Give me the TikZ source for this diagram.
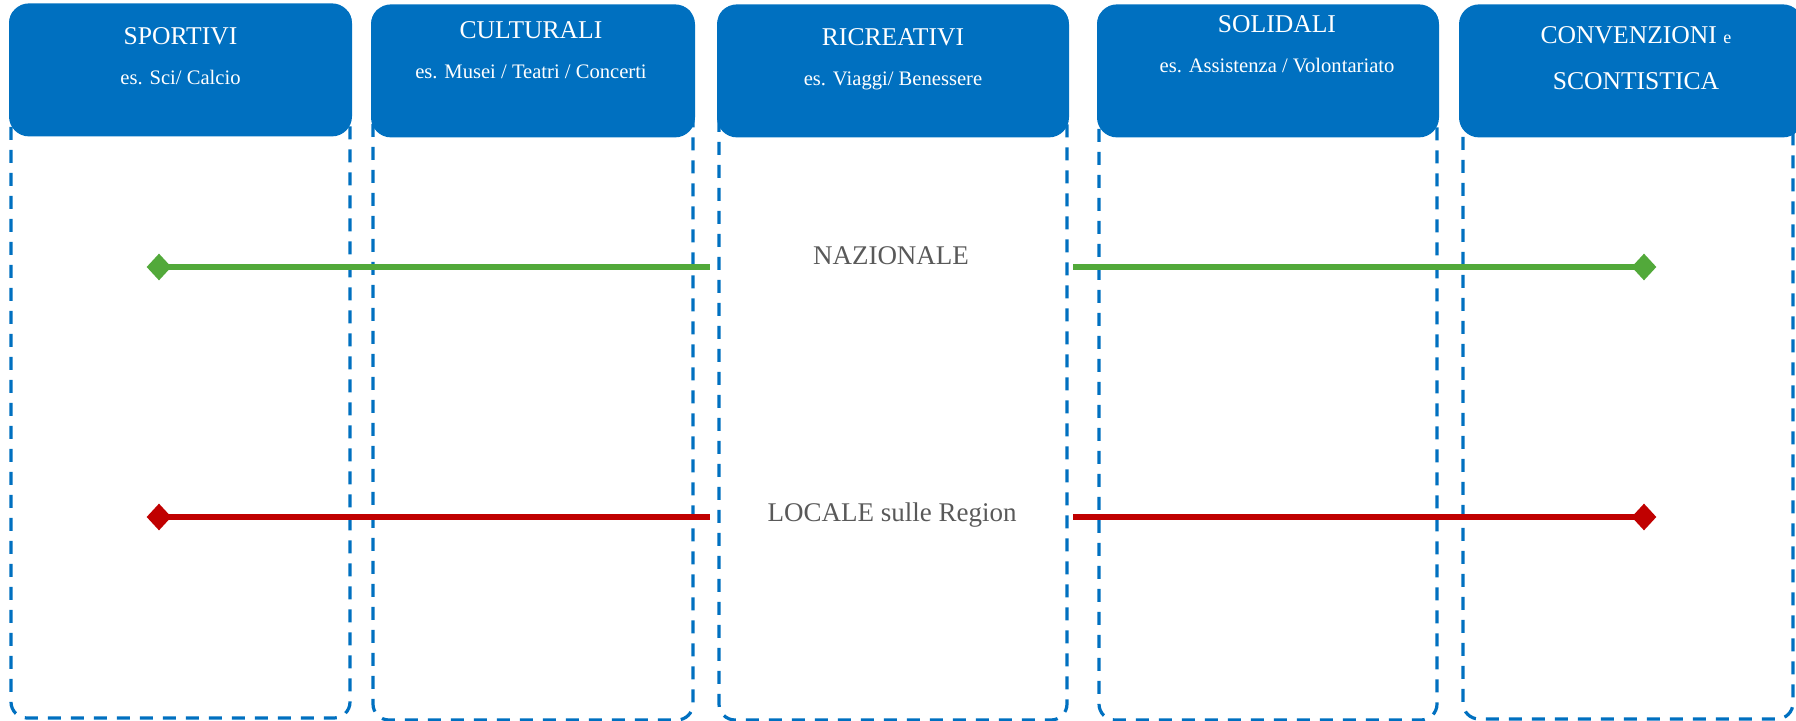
\documentclass[tikz,border=0pt]{standalone}
\usepackage{fontspec}
\setmainfont{Liberation Serif}
\usepackage{tikz}
\usetikzlibrary{shapes,backgrounds}

\definecolor{hdrblue}{HTML}{0070C0}
\definecolor{natgreen}{HTML}{52A93A}
\definecolor{locred}{HTML}{C00000}
\definecolor{lblgray}{HTML}{595959}

\begin{document}
\begin{tikzpicture}[x=0.5pt,y=-0.5pt,
                    colbox/.style={draw=hdrblue,line width=1.6pt,dash pattern=on 6.5pt off 5pt,
                                   rounded corners=8pt,inner sep=0pt,outer sep=0pt},
                    hdrbox/.style={fill=hdrblue,rounded corners=10pt,inner sep=0pt,
                                   minimum height=66.5pt,anchor=north},
                    hdrtitle/.style={text=white,anchor=base,font=\fontsize{12.8}{15}\selectfont},
                    hdrsub/.style={text=white,anchor=base,font=\fontsize{10.3}{12}\selectfont},
                    rowlabel/.style={text=lblgray,anchor=base,font=\fontsize{13.5}{16}\selectfont},
                    endmark/.style={diamond,inner sep=0pt,minimum width=12.5pt,minimum height=13.5pt},
                    rowline/.style={line width=2.6pt}]

  \useasboundingbox (0,0) rectangle (1796,721);

  % columns
  \node[colbox,minimum width=169.5pt,minimum height=356pt]   (c1) at (180.5,362)  {};
  \node[colbox,minimum width=160pt,minimum height=356.5pt]   (c2) at (533,363.5)  {};
  \node[colbox,minimum width=174pt,minimum height=356.5pt]   (c3) at (893,363.5)  {};
  \node[colbox,minimum width=169pt,minimum height=356.5pt]   (c4) at (1268,363.5) {};
  \node[colbox,minimum width=165pt,minimum height=356pt]     (c5) at (1628,363)   {};

  % headers
  \node[hdrbox,minimum width=171.5pt] (h1) at (180.5,3) {};
  \node[hdrbox,minimum width=162pt]   (h2) at (533,4)   {};
  \node[hdrbox,minimum width=176pt]   (h3) at (893,4)   {};
  \node[hdrbox,minimum width=171pt]   (h4) at (1268,4)  {};
  \node[hdrbox,minimum width=172pt]   (h5) at (1631,4)  {};

  \node[hdrtitle] (t1) at (180.5,45) {SPORTIVI};
  \node[hdrsub]   (s1) at (180.5,85) {es. Sci/ Calcio};
  \node[hdrtitle] (t2) at (531,39)   {CULTURALI};
  \node[hdrsub]   (s2) at (531,79)   {es. Musei / Teatri / Concerti};
  \node[hdrtitle] (t3) at (893,46)   {RICREATIVI};
  \node[hdrsub]   (s3) at (893,86)   {es. Viaggi/ Benessere};
  \node[hdrtitle] (t4) at (1277,33)  {SOLIDALI};
  \node[hdrsub]   (s4) at (1277,73)  {es. Assistenza / Volontariato};
  \node[hdrtitle] (t5) at (1636,44)  {CONVENZIONI {\fontsize{9}{10}\selectfont e}};
  \node[hdrtitle] (s5) at (1636,90)  {SCONTISTICA};

  % levels
  \node[rowlabel] (nat) at (891,265) {NAZIONALE};
  \node[rowlabel] (loc) at (892,522) {LOCALE sulle Region};

  \coordinate (natL) at (710,267);
  \coordinate (natR) at (1073,267);
  \coordinate (locL) at (710,517);
  \coordinate (locR) at (1073,517);

  \node[endmark,fill=natgreen] (gA) at (159,267)  {};
  \node[endmark,fill=natgreen] (gB) at (1644,267) {};
  \node[endmark,fill=locred]   (rA) at (159,517)  {};
  \node[endmark,fill=locred]   (rB) at (1644,517) {};

  \path[rowline,draw=natgreen] (gA.center) edge (natL)
                               (natR)      edge (gB.center);
  \path[rowline,draw=locred]   (rA.center) edge (locL)
                               (locR)      edge (rB.center);
\end{tikzpicture}
\end{document}
